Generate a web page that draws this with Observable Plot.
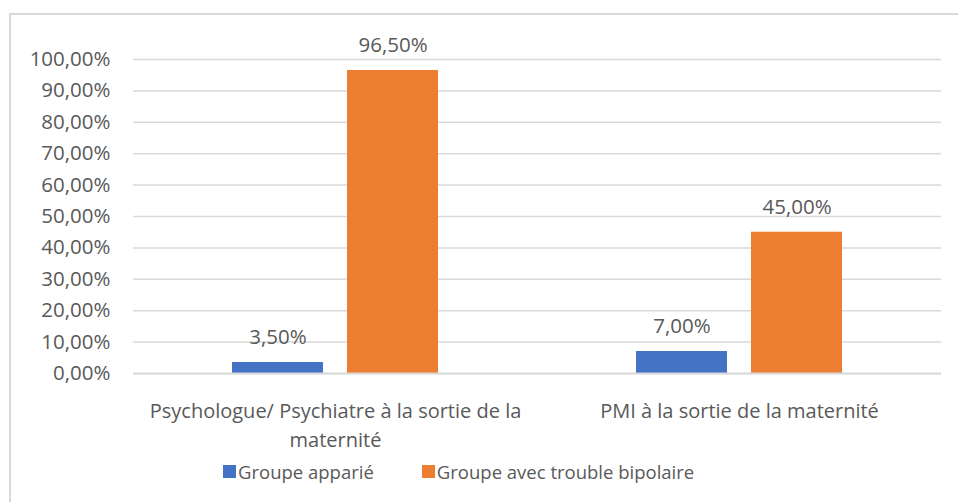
<!DOCTYPE html>
<html>
<head>
<meta charset="utf-8">
<script src="https://cdn.jsdelivr.net/npm/d3@7"></script>
<script src="https://cdn.jsdelivr.net/npm/@observablehq/plot@0.6"></script>
<style>
  html, body { margin: 0; padding: 0; background: #fff; }
  body { width: 958px; height: 502px; position: relative; overflow: hidden; font-family: "Open Sans", sans-serif; color: #595959; }
  #frame { position: absolute; left: 9px; top: 13px; width: 960px; height: 500px; border: 2px solid #d9d9d9; box-sizing: border-box; pointer-events: none; }
  #chart { position: absolute; left: 0; top: 0; }
  #legend { position: absolute; left: 223px; top: 458px; height: 26px; display: flex; justify-content: flex-start; align-items: center; font-size: 18.5px; }
  .item { display: flex; align-items: center; }
  .item + .item { margin-left: 48px; }
  .sw { width: 13px; height: 13px; margin-right: 2px; }
</style>
</head>
<body>
<div id="chart"></div>
<div id="legend"></div>
<div id="frame"></div>
<script>
const categories = ["Psychologue/ Psychiatre à la sortie de la maternité", "PMI à la sortie de la maternité"];
const categoryLabels = ["Psychologue/ Psychiatre à la sortie de la\nmaternité", "PMI à la sortie de la maternité"];
const series = ["Groupe apparié", "Groupe avec trouble bipolaire"];
const seriesColors = ["#4472C4", "#ED7D31"];
const valuesApparie = [0.035, 0.07];
const valuesBipolaire = [0.965, 0.45];
const yTicks = [0, 0.1, 0.2, 0.3, 0.4, 0.5, 0.6, 0.7, 0.8, 0.9, 1.0];

const allValues = [valuesApparie, valuesBipolaire];
const data = [];
categories.forEach((c, i) => {
  series.forEach((s, j) => data.push({cat: c, series: s, value: allValues[j][i]}));
});
const fmt = d => (d * 100).toFixed(2).replace(".", ",") + "%";
const labelOf = c => categoryLabels[categories.indexOf(c)];

const chart = Plot.plot({
  width: 958,
  height: 456,
  marginLeft: 133,
  marginRight: 17,
  marginTop: 59,
  marginBottom: 83,
  style: {fontFamily: "'Open Sans', sans-serif", fontSize: "20px", color: "#595959", background: "transparent"},
  fx: {domain: categories, padding: 0, axis: null},
  x: {domain: series, paddingInner: 0.209, paddingOuter: 0.861, axis: null},
  y: {domain: [0, 1]},
  color: {domain: series, range: seriesColors},
  marks: [
    Plot.gridY(yTicks, {stroke: "#d9d9d9", strokeOpacity: 1, strokeWidth: 1.5}),
    Plot.axisY(yTicks, {tickSize: 0, tickPadding: 23, tickFormat: fmt, label: null, fontSize: 20.5}),
    Plot.barY(data, {fx: "cat", x: "series", y: "value", fill: "series"}),
    Plot.ruleY([0], {stroke: "#d9d9d9", strokeWidth: 2}),
    Plot.text(data, {fx: "cat", x: "series", y: "value", text: d => fmt(d.value), dy: -25, fill: "#595959", fontSize: 20.5}),
    Plot.text(categories, {fx: d => d, text: d => labelOf(d), frameAnchor: "bottom", lineAnchor: "top", dy: 24, lineHeight: 1.45, fill: "#595959", fontSize: 20})
  ]
});
document.getElementById("chart").appendChild(chart);

const legend = document.getElementById("legend");
series.forEach((s, i) => {
  const item = document.createElement("div");
  item.className = "item";
  const sw = document.createElement("div");
  sw.className = "sw";
  sw.style.background = seriesColors[i];
  const t = document.createElement("span");
  t.textContent = s;
  item.appendChild(sw);
  item.appendChild(t);
  legend.appendChild(item);
});
</script>
</body>
</html>
